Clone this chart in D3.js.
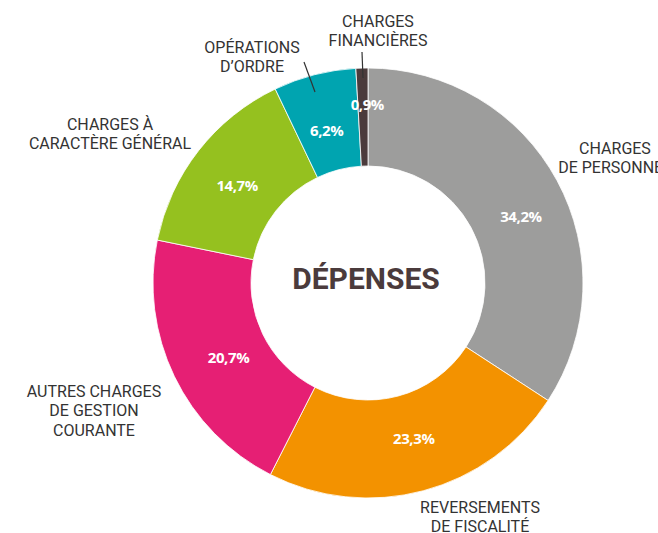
<!DOCTYPE html>
<html><head><meta charset="utf-8">
<script src="https://cdn.jsdelivr.net/npm/d3@7"></script>
<style>
html,body{margin:0;padding:0;background:#fff;}
svg{display:block;}
</style></head>
<body>
<svg id="chart" width="658" height="533"></svg>
<script>
const categories = ["CHARGES DE PERSONNEL", "REVERSEMENTS DE FISCALITÉ", "AUTRES CHARGES DE GESTION COURANTE", "CHARGES À CARACTÈRE GÉNÉRAL", "OPÉRATIONS D’ORDRE", "CHARGES FINANCIÈRES"];
const values = [34.2, 23.3, 20.7, 14.7, 6.2, 0.9];
const valueLabels = ["34,2%", "23,3%", "20,7%", "14,7%", "6,2%", "0,9%"];
const labelLines = [["CHARGES", "DE PERSONNEL"], ["REVERSEMENTS", "DE FISCALITÉ"], ["AUTRES CHARGES", "DE GESTION", "COURANTE"], ["CHARGES À", "CARACTÈRE GÉNÉRAL"], ["OPÉRATIONS", "D’ORDRE"], ["CHARGES", "FINANCIÈRES"]];
const title = "DÉPENSES";

const colors = ["#9d9d9c", "#f39200", "#e61f74", "#95c11f", "#00a4b0", "#4b3b3c"];
const cx = 368, cy = 283, rOuter = 215, rInner = 117;
// layout tweaks for percentage labels (dx, dy from centroid) and category label anchors
const pctNudge = [[7, 12], [3, -5], [10, 2], [0, 4], [0, 8], [4, -13]];
const catPos = [[615, 154], [480, 513], [94, 397], [110, 130], [252, 53], [378, 27]];
const leaders = [null, null, null, null, [[304, 62], [315, 92]], [[362, 52], [363, 78]]];

const svg = d3.select("#chart");
const g = svg.append("g").attr("transform", `translate(${cx},${cy})`);

const pie = d3.pie().sort(null).value(d => d).startAngle(0).endAngle(2 * Math.PI);
const arcs = pie(values);
const arc = d3.arc().innerRadius(rInner).outerRadius(rOuter);
const labelArc = d3.arc().innerRadius(166).outerRadius(166);
const color = d3.scaleOrdinal().domain(categories).range(colors);

g.selectAll("path.slice").data(arcs).enter().append("path")
  .attr("class", "slice")
  .attr("d", arc)
  .attr("fill", (d, i) => color(categories[i]))
  .attr("stroke", "#fff").attr("stroke-width", 0.8);

g.selectAll("text.pct").data(arcs).enter().append("text")
  .attr("class", "pct")
  .attr("x", (d, i) => labelArc.centroid(d)[0] + pctNudge[i][0])
  .attr("y", (d, i) => labelArc.centroid(d)[1] + pctNudge[i][1])
  .attr("text-anchor", "middle").attr("dominant-baseline", "central")
  .attr("fill", "#fff")
  .style("font-family", "'Open Sans', sans-serif").style("font-weight", 700)
  .style("font-size", "15px").style("letter-spacing", "-0.4px")
  .text((d, i) => valueLabels[i]);

g.append("text")
  .attr("x", -2).attr("y", 6)
  .attr("text-anchor", "middle")
  .attr("fill", "#4b3b3c")
  .style("font-family", "Roboto, sans-serif").style("font-weight", 700)
  .style("font-size", "30px")
  .text(title);

// leader lines
leaders.forEach(l => {
  if (!l) return;
  svg.append("line").attr("x1", l[0][0]).attr("y1", l[0][1]).attr("x2", l[1][0]).attr("y2", l[1][1])
    .attr("stroke", "#333").attr("stroke-width", 1.2);
});

// category labels
labelLines.forEach((lines, i) => {
  const t = svg.append("text")
    .attr("x", catPos[i][0]).attr("y", catPos[i][1])
    .attr("text-anchor", "middle")
    .attr("fill", "#333")
    .style("font-family", "Roboto, sans-serif").style("font-size", "16px");
  lines.forEach((s, j) => {
    t.append("tspan").attr("x", catPos[i][0]).attr("dy", j === 0 ? 0 : 19.3).text(s);
  });
});
</script>
</body></html>
